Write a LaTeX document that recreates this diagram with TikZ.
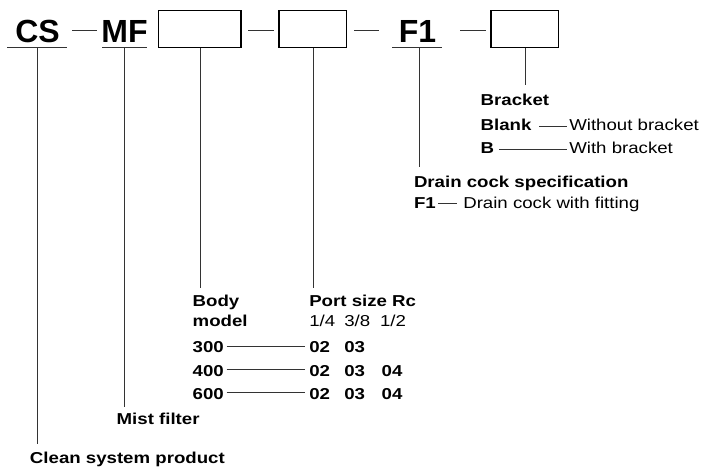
\documentclass[tikz,border=0pt]{standalone}
\usepackage{fontspec}
\setmainfont{Liberation Sans}[FakeStretch=1.18]
\newfontfamily\bigfont{Liberation Sans}
\begin{document}
\begin{tikzpicture}[x=1pt,y=-1pt,
  txt/.style={inner sep=0pt,outer sep=0pt,anchor=base west,font=\fontsize{15.8}{18}\selectfont\bfseries},
  rtxt/.style={inner sep=0pt,outer sep=0pt,anchor=base west,font=\fontsize{15.8}{18}\selectfont},
  big/.style={inner sep=0pt,outer sep=0pt,anchor=base,font=\bigfont\fontsize{32}{36}\selectfont\bfseries},
  codebox/.style={draw=black,line width=1.1pt},
  lead/.style={draw=black!80,line width=0.9pt}]
\useasboundingbox (0,0) rectangle (702,468);
% top row
\node[big] (cs) at (37.5,43) {CS};
\node[big] (mf) at (124.5,43) {MF};
\node[big] (f1) at (417.5,43) {F1};
\draw[codebox] (158.3,10.7) rectangle (241,47.7);
\draw[codebox] (279,10.7) rectangle (346.7,47.7);
\draw[codebox] (491,10.7) rectangle (558.7,47.7);
\coordinate (b1) at (200,47.7);
\coordinate (b2) at (313.3,47.7);
\coordinate (b3) at (525,47.7);
% dashes
\draw[lead] (72,30.7) -- (97,30.7);
\draw[lead] (248,30.7) -- (274,30.7);
\draw[lead] (354,30.7) -- (379.3,30.7);
\draw[lead] (460,30.7) -- (485.7,30.7);
% underlines
\draw[lead] (7,47.7) -- (67,47.7);
\draw[lead] (102,47.7) -- (147,47.7);
\draw[lead] (392.3,47.7) -- (442.3,47.7);
% verticals
\coordinate (csTop) at (37.3,47.7);
\coordinate (csEnd) at (37.3,444.3);
\coordinate (mfTop) at (124.3,47.7);
\coordinate (mfEnd) at (124.3,407);
\coordinate (f1Top) at (419,47.7);
\coordinate (f1End) at (419,167);
\coordinate (b1End) at (200,288);
\coordinate (b2End) at (313.3,288);
\coordinate (b3End) at (525,85);
\draw[lead] (csTop) -- (csEnd);
\draw[lead] (mfTop) -- (mfEnd);
\draw[lead] (f1Top) -- (f1End);
\draw[lead] (b1) -- (b1End);
\draw[lead] (b2) -- (b2End);
\draw[lead] (b3) -- (b3End);
% bracket
\node[txt] (brk) at (480.7,106) {Bracket};
\node[txt] (blank) at (480.7,131) {Blank};
\node[rtxt] (wob) at (569.3,131) {Without bracket};
\node[txt] (bb) at (480.7,153.3) {B};
\node[rtxt] (wb) at (569.3,153.3) {With bracket};
\draw[lead] (539.3,126.7) -- (566.7,126.7);
\draw[lead] (499.3,149) -- (566.7,149);
% drain cock
\node[txt] (dcs) at (414,187.3) {Drain cock specification};
\node[txt] (df1) at (414,208.3) {F1};
\node[rtxt] (dcw) at (463.3,208.3) {Drain cock with fitting};
\draw[lead] (438.3,203.3) -- (456.7,203.3);
% body model / port size
\node[txt] (body) at (192.7,306.7) {Body};
\node[txt] (model) at (192.7,326.7) {model};
\node[txt] (port) at (309.3,306.7) {Port size Rc};
\node[rtxt] (p14) at (309.3,326.7) {1/4};
\node[rtxt] (p38) at (344.3,326.7) {3/8};
\node[rtxt] (p12) at (380,326.7) {1/2};
\node[txt] (m300) at (192.7,352.7) {300};
\node[txt] (m400) at (192.7,376) {400};
\node[txt] (m600) at (192.7,399.3) {600};
\node[txt] (a02) at (309.3,352.7) {02};
\node[txt] (a03) at (344.3,352.7) {03};
\node[txt] (c02) at (309.3,376) {02};
\node[txt] (c03) at (344.3,376) {03};
\node[txt] (c04) at (381.7,376) {04};
\node[txt] (d02) at (309.3,399.3) {02};
\node[txt] (d03) at (344.3,399.3) {03};
\node[txt] (d04) at (381.7,399.3) {04};
\draw[lead] (226.7,346) -- (305,346);
\draw[lead] (226.7,369.3) -- (305,369.3);
\draw[lead] (226.7,392) -- (305,392);
% bottom labels
\node[txt] (mist) at (116.7,424.3) {Mist filter};
\node[txt] (clean) at (30,463.3) {Clean system product};
\end{tikzpicture}
\end{document}
